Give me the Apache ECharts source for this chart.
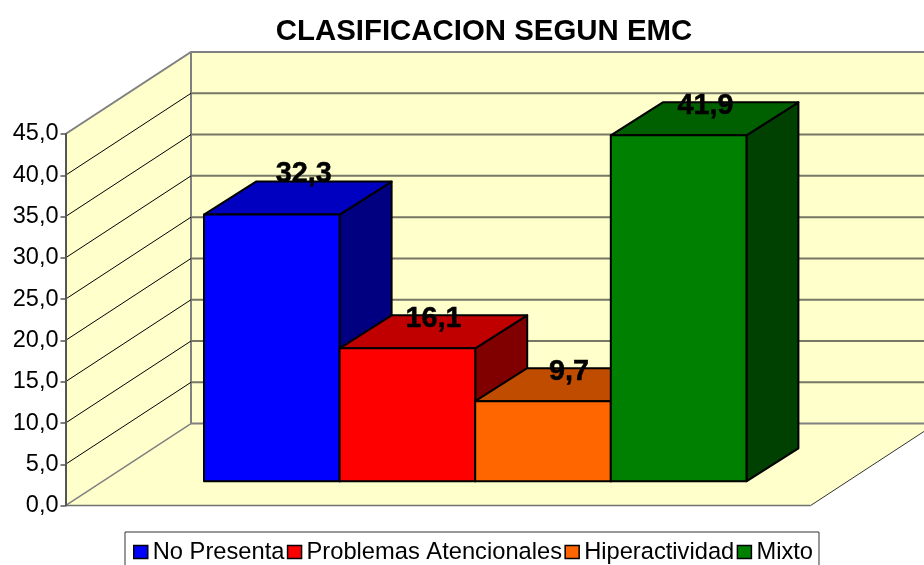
<!DOCTYPE html>
<html>
<head>
<meta charset="utf-8">
<title>CLASIFICACION SEGUN EMC</title>
<script src="https://cdn.jsdelivr.net/npm/echarts@6/dist/echarts.min.js"></script>
<style>
  html, body { margin: 0; padding: 0; background: #fff; }
  #chart { width: 924px; height: 565px; }
</style>
</head>
<body>
<div id="chart"></div>
<script>
const categories = ["No Presenta", "Problemas Atencionales", "Hiperactividad", "Mixto"];
const values = [32.3, 16.1, 9.7, 41.9];
const yTicks = [0, 5, 10, 15, 20, 25, 30, 35, 40, 45];

const frontColors = ["#0000ff", "#ff0000", "#ff6600", "#008000"];
const topColors = ["#0000c0", "#c00000", "#c04c00", "#006000"];
const sideColors = ["#000080", "#800000", "#803300", "#004000"];

// fake 3d: pixel offsets of the depth direction
const wallDepth = [125.5, -82];
const barGap = [38.5, -24.3];
const barDepth = [52, -33];
// x axis is in bar widths, bar i covers i-0.5 .. i+0.5
const xMin = -1.2375;
const xMax = 4.2566;
// labels sit a little off the bar centre in the original
const labelDx = [6, 0, 0, 1];
const labelDy = [-8, 4, 4, 4];

const font = "Liberation Sans";

const shift = (p, d) => [p[0] + d[0], p[1] + d[1]];

function renderWalls(params, api) {
  const a = api.coord([xMin, 0]);
  const b = api.coord([xMax, 0]);
  const c = api.coord([xMin, yTicks[yTicks.length - 1]]);
  const d = api.coord([xMax, yTicks[yTicks.length - 1]]);
  const fill = { fill: "#ffffcc", stroke: null };
  return {
    type: "group",
    children: [
      { type: "polygon", shape: { points: [a, c, shift(c, wallDepth), shift(a, wallDepth)] }, style: fill },
      { type: "polygon", shape: { points: [shift(c, wallDepth), shift(d, wallDepth), shift(b, wallDepth), shift(a, wallDepth)] }, style: fill },
      { type: "polygon", shape: { points: [a, shift(a, wallDepth), shift(b, wallDepth), b] }, style: fill },
      { type: "polyline", shape: { points: [c, shift(c, wallDepth), shift(d, wallDepth)] }, style: { fill: null, stroke: "#808080", lineWidth: 2 } },
      { type: "polyline", shape: { points: [shift(c, wallDepth), shift(a, wallDepth)] }, style: { fill: null, stroke: "#808080", lineWidth: 2 } },
      { type: "polyline", shape: { points: [a, shift(a, wallDepth)] }, style: { fill: null, stroke: "#808080", lineWidth: 1.5 } },
      { type: "polyline", shape: { points: [a, b] }, style: { fill: null, stroke: "#707070", lineWidth: 1.5 } },
      { type: "polyline", shape: { points: [b, shift(b, wallDepth)] }, style: { fill: null, stroke: "#333333", lineWidth: 1 } }
    ]
  };
}

function renderGrid(params, api) {
  const v = api.value(1);
  const p = api.coord([xMin, v]);
  const q = api.coord([xMax, v]);
  const children = [
    { type: "polyline", shape: { points: [shift(p, wallDepth), shift(q, wallDepth)] }, style: { fill: null, stroke: v === 0 || v === 45 ? "#808080" : "#777766", lineWidth: 2 } }
  ];
  if (v !== 0 && v !== 45) {
    children.push({ type: "polyline", shape: { points: [p, shift(p, wallDepth)] }, style: { fill: null, stroke: "#000", lineWidth: 1 } });
  }
  return { type: "group", children };
}

function renderBar(params, api) {
  const i = api.value(0);
  const v = api.value(1);
  const bl = shift(api.coord([i - 0.5, 0]), barGap);
  const br = shift(api.coord([i + 0.5, 0]), barGap);
  const tl = shift(api.coord([i - 0.5, v]), barGap);
  const tr = shift(api.coord([i + 0.5, v]), barGap);
  const line = { stroke: "#000", lineWidth: 2, lineJoin: "round" };
  return {
    type: "group",
    children: [
      { type: "polygon", shape: { points: [tr, shift(tr, barDepth), shift(br, barDepth), br] }, style: { fill: sideColors[i], ...line } },
      { type: "polygon", shape: { points: [tl, shift(tl, barDepth), shift(tr, barDepth), tr] }, style: { fill: topColors[i], ...line } },
      { type: "polygon", shape: { points: [tl, tr, br, bl] }, style: { fill: frontColors[i], ...line } },
      {
        type: "text",
        style: {
          x: (tl[0] + tr[0]) / 2 + barDepth[0] / 2 + labelDx[i],
          y: tl[1] + barDepth[1] + labelDy[i],
          text: String(v).replace(".", ","),
          font: "bold 28.8px " + font,
          fill: "#000",
          stroke: "#000",
          lineWidth: 0.5,
          align: "center",
          verticalAlign: "middle"
        }
      }
    ]
  };
}

const chart = echarts.init(document.getElementById("chart"), null, { renderer: "canvas" });

chart.setOption({
  animation: false,
  backgroundColor: "#fff",
  title: {
    text: "CLASIFICACION SEGUN EMC",
    left: 484,
    top: 17,
    textAlign: "center",
    padding: 0,
    textStyle: { fontFamily: font, fontSize: 29.4, fontWeight: "bold", color: "#000" }
  },
  legend: {
    left: 125,
    top: 532,
    padding: [8, 6, 20, 8],
    itemGap: 2.4,
    itemWidth: 14,
    itemHeight: 13,
    icon: "rect",
    backgroundColor: "#fff",
    borderColor: "#333",
    borderWidth: 1,
    textStyle: { fontFamily: font, fontSize: 23.7, color: "#000" },
    data: categories.map((name, i) => ({
      name,
      itemStyle: { color: frontColors[i], borderColor: "#000", borderWidth: 1.5 }
    }))
  },
  grid: { left: 65.5, top: 134, width: 745, height: 371.6 },
  xAxis: { type: "value", min: xMin, max: xMax, show: false },
  yAxis: {
    type: "value",
    min: 0,
    max: 45,
    interval: 5,
    z: 10,
    splitLine: { show: false },
    axisLine: { show: true, onZero: false, lineStyle: { color: "#555", width: 2 } },
    axisTick: { show: true, length: 5, lineStyle: { color: "#555", width: 1.5 } },
    axisLabel: {
      margin: 7,
      padding: [10, 0, 0, 0],
      fontFamily: font,
      fontSize: 23.5,
      color: "#000",
      formatter: (v) => v.toFixed(1).replace(".", ",")
    }
  },
  series: [
    { type: "custom", name: "walls", silent: true, z: 1, renderItem: renderWalls, data: [[0, 0]] },
    { type: "custom", name: "grid", silent: true, z: 2, renderItem: renderGrid, encode: { x: 0, y: 1 }, data: yTicks.map((t) => [0, t]) },
    ...categories.map((name, i) => ({
      type: "custom",
      name,
      z: 3,
      renderItem: renderBar,
      encode: { x: 0, y: 1 },
      data: [[i, values[i]]]
    }))
  ]
});
</script>
</body>
</html>
